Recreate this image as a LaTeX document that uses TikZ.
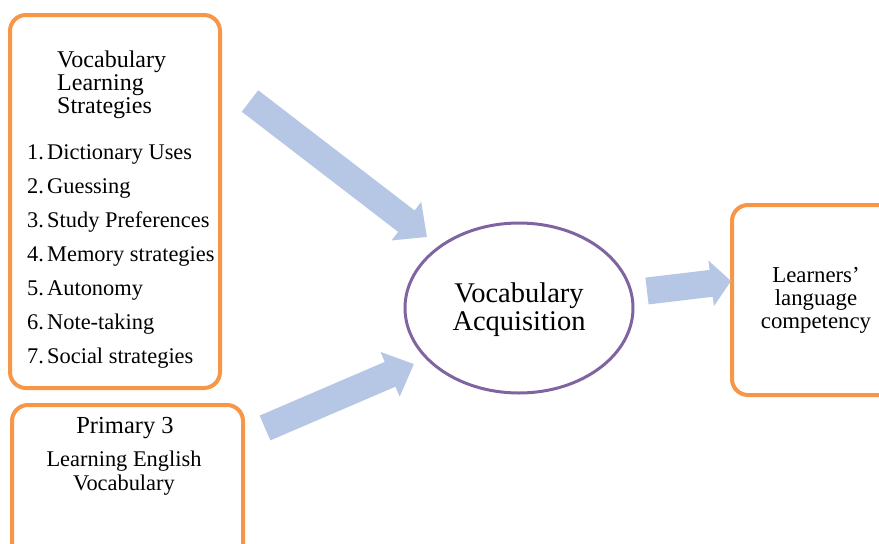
\documentclass[tikz,border=0pt]{standalone}
\usepackage{fontspec}
\setmainfont{Liberation Serif}
\usetikzlibrary{arrows.meta,shapes.geometric}
\definecolor{boxorange}{RGB}{247,150,70}
\definecolor{ovalpurple}{RGB}{128,100,162}
\definecolor{arrowblue}{RGB}{181,199,228}
\newcommand{\fs}[2]{\fontsize{#1}{#2}\selectfont}

\begin{document}
\begin{tikzpicture}[x=1pt,y=-1pt,
    orangebox/.style={draw=boxorange,line width=4pt,rounded corners=16pt,inner sep=0pt},
    oval/.style={draw=ovalpurple,line width=3pt,ellipse,inner sep=0pt},
    fatarrow/.style={arrowblue,line width=27pt,-{Triangle[length=26pt,width=47pt]}},
    txt/.style={inner sep=0pt,anchor=base}]
  \path[use as bounding box,clip] (0,0) rectangle (879,544);

  % boxes and the oval
  \node[orangebox,minimum width=210pt,minimum height=373pt] (vls) at (115,201.5) {};
  \node[orangebox,minimum width=231pt,minimum height=155pt] (prim) at (127.5,482.5) {};
  \node[orangebox,minimum width=168pt,minimum height=190pt] (comp) at (816,300) {};
  \node[oval,minimum width=228pt,minimum height=170pt] (acq) at (519,308) {};

  % texts (base of a multi-line node = its last line)
  \node[txt,anchor=base west,align=left,font=\fs{24}{23}] (head) at (57,113) {Vocabulary\\Learning\\Strategies};
  \foreach \i/\t in {1/Dictionary Uses,2/Guessing,3/Study Preferences,4/Memory strategies,
                     5/Autonomy,6/Note-taking,7/Social strategies}{
    \node[txt,anchor=base west,font=\fs{22.4}{22}] (num\i) at (27,{159+34*(\i-1)}) {\i.};
    \node[txt,anchor=base west,font=\fs{22.4}{22}] (item\i) at (47,{159+34*(\i-1)}) {\t};
  }
  \node[txt,font=\fs{24.5}{24}] (ptitle) at (125,433) {Primary 3};
  \node[txt,align=center,font=\fs{22.4}{24}] (ptext) at (124,490) {Learning English\\Vocabulary};
  \node[txt,align=center,font=\fs{28.5}{28}] (acqtext) at (519,330) {Vocabulary\\Acquisition};
  \node[txt,align=center,font=\fs{22.8}{23}] (comptext) at (816,328) {Learners’\\language\\competency};

  % arrows
  \coordinate (t1) at (250,101);
  \coordinate (h1) at (427,237);
  \coordinate (t2) at (265,428);
  \coordinate (h2) at (414,364);
  \coordinate (t3) at (647,291);
  \coordinate (h3) at (731,281);
  \draw[fatarrow] (t1) -- (h1);
  \draw[fatarrow] (t2) -- (h2);
  \draw[fatarrow,-{Triangle[length=20pt,width=45pt]}] (t3) -- (h3);
\end{tikzpicture}
\end{document}
